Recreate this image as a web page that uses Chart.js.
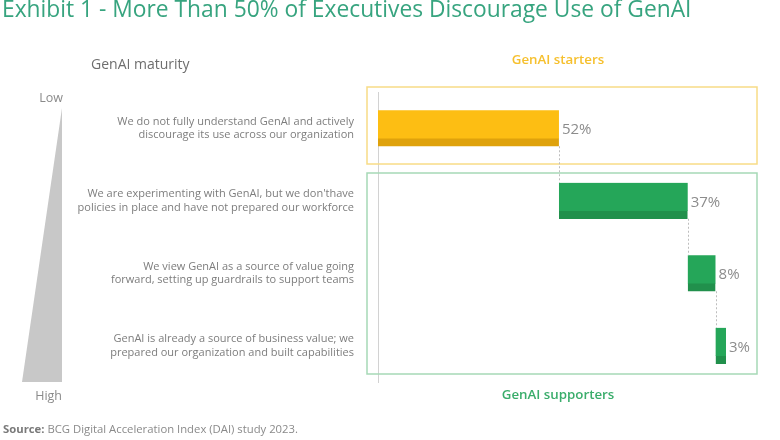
<!doctype html>
<html lang="en">
<head>
  <meta charset="utf-8">
  <title>GenAI maturity</title>
  <script src="https://cdn.jsdelivr.net/npm/chart.js@4.4.1/dist/chart.umd.min.js"></script>
  <style>
    body { margin: 0; background: #fff; font-family: "Open Sans", sans-serif; }
    #wrap { position: relative; width: 780px; height: 440px; overflow: hidden; }
    #myChart { position: absolute; left: 0; top: 0; }
    .t { position: absolute; white-space: nowrap; line-height: 1; }
  </style>
</head>
<body>
<div id="wrap">
  <canvas id="myChart" width="780" height="440"></canvas>
  <div class="t" style="left:2px; top:-2.5px; font-size:22.8px; color:#37a47f;">Exhibit 1 - More Than 50% of Executives Discourage Use of GenAI</div>
  <div class="t" style="left:91px; top:57px; font-size:14px; color:#6e6e6e;">GenAI maturity</div>
  <div class="t" style="left:458px; width:200px; text-align:center; top:53.3px; font-size:13.3px; font-weight:600; color:#f6c02e;">GenAI starters</div>
  <div class="t" style="left:458px; width:200px; text-align:center; top:388.3px; font-size:13.3px; font-weight:600; color:#3aad6b;">GenAI supporters</div>
  <div class="t" style="left:0; width:63px; text-align:right; top:91.6px; font-size:12.5px; color:#8a8a8a;">Low</div>
  <div class="t" style="left:0; width:62px; text-align:right; top:389.6px; font-size:12.5px; color:#8a8a8a;">High</div>
  <div class="t" style="left:3px; top:423.3px; font-size:11.3px; color:#8a8a8a;"><b style="color:#7a7a7a;">Source:</b> BCG Digital Acceleration Index (DAI) study 2023.</div>
</div>

<script>
// maturity statements, low -> high
const statements = [
  ["We do not fully understand GenAI and actively", "discourage its use across our organization"],
  ["We are experimenting with GenAI, but we don'thave", "policies in place and have not prepared our workforce"],
  ["We view GenAI as a source of value going", "forward, setting up guardrails to support teams"],
  ["GenAI is already a source of business value; we", "prepared our organization and built capabilities"]
];
const shares = [52, 37, 8, 3];           // % of executives
const barColors = ['#fdbe13', '#25a659', '#25a659', '#25a659'];
const stripColors = ['#dfa20c', '#21904c', '#21904c', '#21904c'];

// waterfall: each bar starts where the previous one ended
var run = 0;
const spans = shares.map(v => { const s = [run, run + v]; run += v; return s; });

const decor = {
  id: 'decor',
  beforeDatasetsDraw(chart) {
    const {ctx, chartArea: a, scales: {y}} = chart;
    const split = (y.getPixelForValue(0) + y.getPixelForValue(1)) / 2;
    ctx.save();
    // maturity wedge
    ctx.fillStyle = '#c8c8c8';
    ctx.beginPath();
    ctx.moveTo(62, 108);
    ctx.lineTo(62, a.bottom);
    ctx.lineTo(22, a.bottom);
    ctx.closePath();
    ctx.fill();
    // starters / supporters boxes
    ctx.lineWidth = 1.5;
    ctx.strokeStyle = '#f8dc86';
    ctx.strokeRect(a.left - 11, a.top - 5, 390, split - a.top + 4.5);
    ctx.strokeStyle = '#a6d9b6';
    ctx.strokeRect(a.left - 11, split + 8.5, 390, a.bottom - 8 - split - 8.5);
    ctx.restore();
  },
  afterDatasetsDraw(chart) {
    const ctx = chart.ctx;
    const bars = chart.getDatasetMeta(0).data;
    ctx.save();
    // dotted connectors
    ctx.strokeStyle = '#bdbdbd';
    ctx.lineWidth = 1;
    ctx.setLineDash([2, 2]);
    for (let i = 0; i < bars.length - 1; i++) {
      const b = bars[i], n = bars[i + 1];
      ctx.beginPath();
      ctx.moveTo(Math.round(b.x) + 0.5, b.y + b.height / 2);
      ctx.lineTo(Math.round(b.x) + 0.5, n.y - n.height / 2);
      ctx.stroke();
    }
    // value labels
    ctx.setLineDash([]);
    ctx.fillStyle = '#8c8c8c';
    ctx.font = '15px "Open Sans"';
    ctx.textBaseline = 'middle';
    ctx.textAlign = 'left';
    bars.forEach((b, i) => ctx.fillText(shares[i] + '%', b.x + 3, b.y + 1.5));
    ctx.restore();
  }
};

var ctx = document.getElementById('myChart').getContext('2d');
var myChart = new Chart(ctx, {
  type: 'bar',
  data: {
    labels: statements,
    datasets: [{
      data: spans,
      backgroundColor: barColors,
      borderColor: stripColors,
      borderWidth: {top: 0, left: 0, right: 0, bottom: 8},
      borderSkipped: false,
      barThickness: 36
    }]
  },
  plugins: [decor],
  options: {
    indexAxis: 'y',
    responsive: false,
    animation: false,
    layout: {padding: {left: 0, right: 54, top: 92, bottom: 58}},
    plugins: {legend: {display: false}, tooltip: {enabled: false}},
    scales: {
      x: {display: false, min: 0, max: 100},
      y: {
        afterFit: (axis) => { axis.width = 378; },
        grid: {display: false},
        border: {display: true, color: '#d2d2d2', width: 1},
        ticks: {
          padding: 16,
          crossAlign: 'near',
          color: '#7d7d7d',
          font: {family: 'Open Sans', size: 11, lineHeight: 1.25}
        }
      }
    }
  }
});
</script>
</body>
</html>
